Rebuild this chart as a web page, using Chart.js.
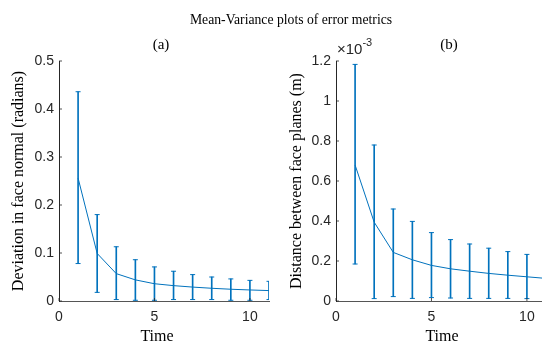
<!DOCTYPE html>
<html>
<head>
<meta charset="utf-8">
<script src="https://cdn.jsdelivr.net/npm/chart.js@4/dist/chart.umd.min.js"></script>
<style>
  html, body { margin:0; padding:0; width:542px; height:345px; overflow:hidden; background:#fff; }
  .box { position:absolute; top:0; height:345px; }
  .txt { position:absolute; white-space:nowrap; color:#000; font-family:"Liberation Serif", "Times New Roman", serif; }
</style>
</head>
<body>
<div class="box" style="left:0; width:285px;"><canvas id="ca"></canvas></div>
<div class="box" style="left:280px; width:300px;"><canvas id="cb"></canvas></div>
<div class="txt" id="mainTitle" style="left:0; width:582px; text-align:center; top:12px; font-size:13.7px;">Mean-Variance plots of error metrics</div>
<div class="txt" style="left:121px; width:80px; text-align:center; top:36px; font-size:15px;">(a)</div>
<div class="txt" style="left:409px; width:80px; text-align:center; top:36px; font-size:15px;">(b)</div>
<div class="txt" style="left:337px; top:38px; font-family:'Liberation Sans', Arial, sans-serif; font-size:15px; color:#262626;">×10<sup style="font-size:11px; position:relative; top:-2px;">-3</sup></div>
<div class="txt" style="left:107px; width:100px; text-align:center; top:327px; font-size:16px;">Time</div>
<div class="txt" style="left:392px; width:100px; text-align:center; top:327px; font-size:16px;">Time</div>
<script>
// ---- data ----
const timeSteps = [1, 2, 3, 4, 5, 6, 7, 8, 9, 10, 11];
// (a) deviation in face normal (radians)
const meanA  = [0.256, 0.099, 0.057, 0.044, 0.036, 0.032, 0.029, 0.0265, 0.0245, 0.023, 0.0217];
const upperA = [0.436, 0.180, 0.113, 0.086, 0.071, 0.062, 0.055, 0.050, 0.046, 0.043, 0.041];
const lowerA = [0.078, 0.018, 0.003, 0.0015, 0.0015, 0.003, 0.003, 0.003, 0.0015, 0.0015, 0.003];
// (b) distance between face planes (m), in units of 1e-3
const meanB  = [0.680, 0.394, 0.243, 0.206, 0.178, 0.161, 0.149, 0.138, 0.129, 0.121, 0.113];
const upperB = [1.183, 0.780, 0.460, 0.398, 0.342, 0.307, 0.285, 0.264, 0.247, 0.233, 0.220];
const lowerB = [0.185, 0.012, 0.022, 0.013, 0.017, 0.015, 0.013, 0.013, 0.013, 0.012, 0.012];
const xTicks = [0, 5, 10];
const yTicksA = [0, 0.1, 0.2, 0.3, 0.4, 0.5];
const yTicksB = [0, 0.2, 0.4, 0.6, 0.8, 1, 1.2];

const BLUE = '#0072BD';
const AXIS = '#262626';
const tickFont = { family: "'Liberation Sans', Arial, sans-serif", size: 14 };
const titleFont = { family: "'Liberation Serif', 'Times New Roman', serif", size: 16 };

// inward tick marks (MATLAB style), positioned from the scales
const inwardTicks = {
  id: 'inwardTicks',
  afterDraw(chart) {
    const ctx = chart.ctx, a = chart.chartArea;
    ctx.save();
    ctx.strokeStyle = AXIS; ctx.lineWidth = 0.8;
    const xs = chart.scales.x, ys = chart.scales.y;
    xs.ticks.forEach(t => {
      const px = xs.getPixelForValue(t.value);
      ctx.beginPath(); ctx.moveTo(px, a.bottom); ctx.lineTo(px, a.bottom - 3); ctx.stroke();
    });
    ys.ticks.forEach(t => {
      const py = ys.getPixelForValue(t.value);
      ctx.beginPath(); ctx.moveTo(a.left, py); ctx.lineTo(a.left + 3, py); ctx.stroke();
    });
    ctx.restore();
  }
};

function makeChart(id, mean, upper, lower, yMax, yTicks, yTitle, yWidth, padRight, titlePad) {
  const bars = timeSteps.map((t, i) => ({ x: t, y: [lower[i], upper[i]] }));
  const capsHi = timeSteps.map((t, i) => ({ x: t, y: upper[i] }));
  const capsLo = timeSteps.map((t, i) => ({ x: t, y: lower[i] }));
  const line = timeSteps.map((t, i) => ({ x: t, y: mean[i] }));
  return new Chart(document.getElementById(id), {
    type: 'bar',
    data: {
      datasets: [
        { type: 'line', data: line, borderColor: BLUE, borderWidth: 1, pointRadius: 0, tension: 0, fill: false },
        { type: 'bar', data: bars, backgroundColor: BLUE, borderWidth: 0, barThickness: 1, grouped: false },
        { type: 'scatter', data: capsHi, pointStyle: 'line', pointRadius: 2.5, borderColor: BLUE, borderWidth: 1, backgroundColor: BLUE },
        { type: 'scatter', data: capsLo, pointStyle: 'line', pointRadius: 2.5, borderColor: BLUE, borderWidth: 1, backgroundColor: BLUE }
      ]
    },
    options: {
      responsive: true,
      maintainAspectRatio: false,
      animation: false,
      events: [],
      layout: { padding: { left: 0, right: padRight, top: 61, bottom: 0 } },
      plugins: { legend: { display: false }, tooltip: { enabled: false } },
      scales: {
        x: {
          type: 'linear', min: 0, max: 11, offset: false,
          afterBuildTicks: s => { s.ticks = xTicks.map(v => ({ value: v })); },
          afterFit: s => { s.height = 44; },
          ticks: { color: AXIS, font: tickFont, padding: 8, maxRotation: 0 },
          grid: { display: true, drawOnChartArea: false, drawTicks: false },
          border: { display: true, color: '#555', width: 1 },
          title: { display: false }
        },
        y: {
          type: 'linear', min: 0, max: yMax,
          afterBuildTicks: s => { s.ticks = yTicks.map(v => ({ value: v })); },
          afterFit: s => { s.width = yWidth; },
          ticks: { color: AXIS, font: tickFont, padding: 5, callback: v => String(v) },
          grid: { display: true, drawOnChartArea: false, drawTicks: false },
          border: { display: true, color: AXIS, width: 1 },
          title: { display: true, text: yTitle, color: '#000', font: titleFont, padding: { top: titlePad, bottom: 0 } }
        }
      }
    },
    plugins: [inwardTicks]
  });
}

makeChart('ca', meanA, upperA, lowerA, 0.5, yTicksA, 'Deviation in face normal (radians)', 59, 16, 9);
makeChart('cb', meanB, upperB, lowerB, 1.2, yTicksB, 'Distance between face planes (m)', 56, 34, 7);
</script>
</body>
</html>
